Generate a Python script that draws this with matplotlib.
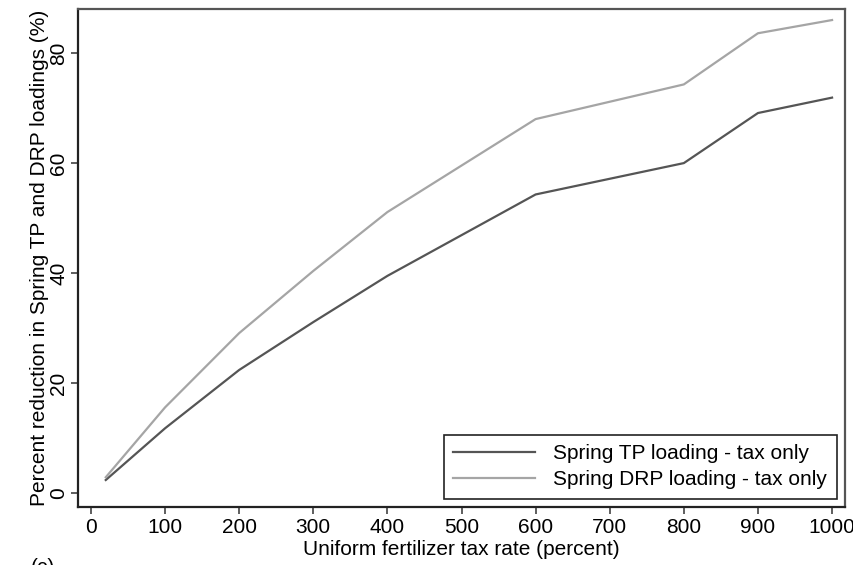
import matplotlib.pyplot as plt

plt.rcParams['font.family'] = ['Liberation Sans', 'DejaVu Sans']

tax_rate = [20, 100, 200, 300, 400, 600, 800, 900, 1000]
tp_reduction = [2.4, 11.8, 22.4, 31.1, 39.5, 54.3, 60.0, 69.1, 71.9]
drp_reduction = [2.9, 15.6, 29.1, 40.4, 51.1, 68.0, 74.3, 83.6, 86.0]

fs = 15

fig = plt.figure(figsize=(8.54, 5.65), dpi=100)
ax = fig.add_axes([0.0913, 0.1027, 0.8982, 0.8813])

ax.plot(tax_rate, tp_reduction, color='#555555', lw=1.6, label='Spring TP loading - tax only')
ax.plot(tax_rate, drp_reduction, color='#a5a5a5', lw=1.6, label='Spring DRP loading - tax only')

ax.set_xlim(-17.5, 1017.5)
ax.set_ylim(-2.5, 88)
ax.set_xticks(range(0, 1001, 100))
ax.set_yticks(range(0, 81, 20))
ax.tick_params(axis='both', labelsize=fs, length=5, width=1.1, color='#333333', pad=3)
ax.tick_params(axis='y', labelrotation=90, pad=2)
for lbl in ax.get_yticklabels():
    lbl.set_va('center')

for side in ['left', 'bottom']:
    ax.spines[side].set_linewidth(1.6)
    ax.spines[side].set_color('#222222')
for side in ['top', 'right']:
    ax.spines[side].set_linewidth(1.6)
    ax.spines[side].set_color('#555555')

ax.set_xlabel('Uniform fertilizer tax rate (percent)', fontsize=fs, labelpad=2)
ax.set_ylabel('Percent reduction in Spring TP and DRP loadings (%)', fontsize=fs, labelpad=0)

leg = ax.legend(loc='lower right', fontsize=fs, fancybox=False, edgecolor='#222222',
                handlelength=3.9, handletextpad=0.9, labelspacing=0.35, borderpad=0.45,
                borderaxespad=0.4, framealpha=1)
leg.get_frame().set_linewidth(1.2)

fig.text(0.036, -0.015, '(c)', fontsize=fs)

fig.savefig('out.png', dpi=100)
